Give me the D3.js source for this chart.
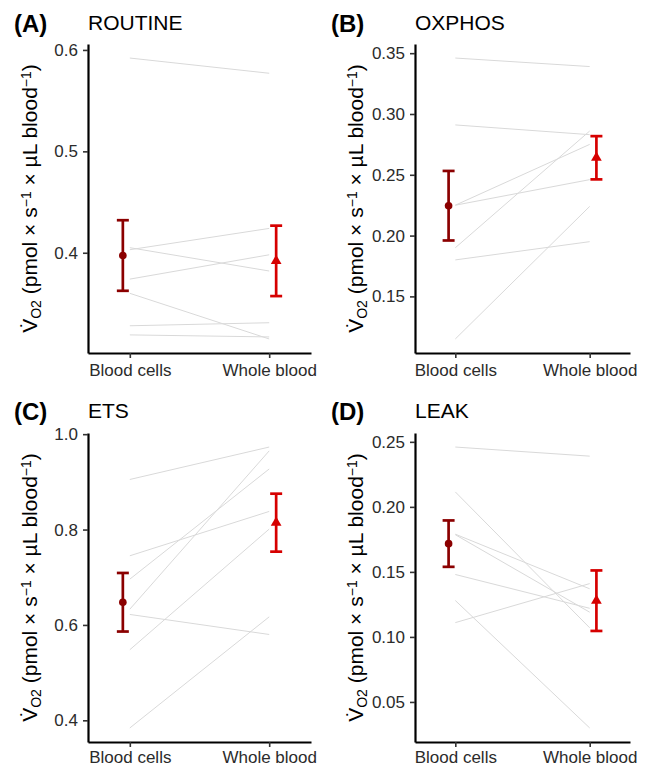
<!DOCTYPE html>
<html>
<head>
<meta charset="utf-8">
<script src="https://cdn.jsdelivr.net/npm/d3@7"></script>
<style>
  body { margin: 0; background: #fff; }
  svg { font-family: "Liberation Sans", Arial, Helvetica, sans-serif; }
</style>
</head>
<body>
<script>
// categories
const conditions = ["Blood cells", "Whole blood"];
const panelLetters = ["(A)", "(B)", "(C)", "(D)"];
const panelTitles = ["ROUTINE", "OXPHOS", "ETS", "LEAK"];

// one value per individual, same order in both arrays (lines pair them)
const routineCells = [0.592, 0.405, 0.403, 0.374, 0.360, 0.328, 0.319];
const routineBlood = [0.577, 0.382, 0.424, 0.398, 0.315, 0.331, 0.317];
const oxphosCells  = [0.346, 0.291, 0.225, 0.225, 0.190, 0.180, 0.115];
const oxphosBlood  = [0.339, 0.283, 0.275, 0.246, 0.286, 0.195, 0.224];
const etsCells     = [0.905, 0.745, 0.696, 0.633, 0.622, 0.548, 0.384];
const etsBlood     = [0.973, 0.838, 0.927, 0.965, 0.580, 0.801, 0.617];
const leakCells    = [0.246, 0.2115, 0.179, 0.1786, 0.148, 0.128, 0.111];
const leakBlood    = [0.239, 0.107, 0.137, 0.119, 0.122, 0.030, 0.141];

// tick labels
const routineTicks = [0.4, 0.5, 0.6];
const oxphosTicks  = [0.15, 0.20, 0.25, 0.30, 0.35];
const etsTicks     = [0.4, 0.6, 0.8, 1.0];
const leakTicks    = [0.05, 0.10, 0.15, 0.20, 0.25];

const width = 649, height = 767;
const darkRed = "#8b0000", red = "#d60000";

const svg = d3.select("body").append("svg")
    .attr("width", width)
    .attr("height", height);

// plot areas in page pixels, plus where the headings sit
const panels = [
    { cells: routineCells, blood: routineBlood, ticks: routineTicks, fmt: ".1f",
      left: 88, right: 311, top: 44, bottom: 353, letterX: 14, labelX: 37, headY: 0, xPad: 5.6 },
    { cells: oxphosCells, blood: oxphosBlood, ticks: oxphosTicks, fmt: ".2f",
      left: 415, right: 630, top: 44, bottom: 353, letterX: 331, labelX: 363, headY: 0, xPad: 5.6 },
    { cells: etsCells, blood: etsBlood, ticks: etsTicks, fmt: ".1f",
      left: 88, right: 311, top: 433, bottom: 742, letterX: 14, labelX: 37, headY: 388, xPad: 3.5 },
    { cells: leakCells, blood: leakBlood, ticks: leakTicks, fmt: ".2f",
      left: 415, right: 630, top: 433, bottom: 742, letterX: 331, labelX: 363, headY: 388, xPad: 3.5 }
];

function summary(v) {
    const m = d3.mean(v);
    const se = d3.deviation(v) / Math.sqrt(v.length);
    return { mean: m, lo: m - se, hi: m + se };
}

panels.forEach(function(p, i) {
    const g = svg.append("g").attr("class", "panel");

    const stats = [summary(p.cells), summary(p.blood)];
    const all = p.cells.concat(p.blood, stats.map(s => s.lo), stats.map(s => s.hi));
    const ext = d3.extent(all);
    const pad = (ext[1] - ext[0]) * 0.05;

    const x = d3.scalePoint()
        .domain(conditions)
        .range([p.left, p.right])
        .padding(0.3);

    const y = d3.scaleLinear()
        .domain([ext[0] - pad, ext[1] + pad])
        .range([p.bottom, p.top]);

    const dodge = x.step() * 0.05;

    // individual lines
    g.append("g").selectAll("line")
        .data(p.cells.map((c, k) => [c, p.blood[k]]))
        .enter().append("line")
        .attr("x1", x(conditions[0]))
        .attr("x2", x(conditions[1]))
        .attr("y1", d => y(d[0]))
        .attr("y2", d => y(d[1]))
        .attr("stroke", "#d9d9d9")
        .attr("stroke-width", 1);

    // mean +/- SE
    const eb = g.append("g").selectAll("g")
        .data(stats)
        .enter().append("g")
        .attr("transform", (d, k) => "translate(" + (x(conditions[k]) + (k === 0 ? -dodge : dodge)) + ",0)");

    eb.append("line")
        .attr("y1", d => y(d.lo)).attr("y2", d => y(d.hi))
        .attr("stroke", (d, k) => k === 0 ? darkRed : red)
        .attr("stroke-width", 2.7);
    eb.append("line")
        .attr("x1", -6).attr("x2", 6)
        .attr("y1", d => y(d.hi)).attr("y2", d => y(d.hi))
        .attr("stroke", (d, k) => k === 0 ? darkRed : red)
        .attr("stroke-width", 2.7);
    eb.append("line")
        .attr("x1", -6).attr("x2", 6)
        .attr("y1", d => y(d.lo)).attr("y2", d => y(d.lo))
        .attr("stroke", (d, k) => k === 0 ? darkRed : red)
        .attr("stroke-width", 2.7);
    eb.append("path")
        .attr("transform", d => "translate(0," + y(d.mean) + ")")
        .attr("d", (d, k) => d3.symbol().type(k === 0 ? d3.symbolCircle : d3.symbolTriangle).size(k === 0 ? 46 : 50)())
        .attr("fill", (d, k) => k === 0 ? darkRed : red);

    // axes
    const yAxis = g.append("g")
        .attr("transform", "translate(" + p.left + ",0)")
        .call(d3.axisLeft(y).tickValues(p.ticks).tickFormat(d3.format(p.fmt))
            .tickSize(5).tickPadding(5).tickSizeOuter(0));
    const xAxis = g.append("g")
        .attr("transform", "translate(0," + p.bottom + ")")
        .call(d3.axisBottom(x).tickSize(5).tickPadding(p.xPad).tickSizeOuter(0));

    [yAxis, xAxis].forEach(function(ax) {
        ax.select(".domain").attr("stroke", "#000").attr("stroke-width", 2.2);
        ax.selectAll(".tick line").attr("stroke", "#333").attr("stroke-width", 1.6);
        ax.selectAll(".tick text").attr("fill", "#2b2b2b")
            .style("font-size", "17px")
            .style("font-family", "'Liberation Sans', Arial, sans-serif");
    });

    // headings
    g.append("text")
        .attr("x", p.letterX).attr("y", 32 + p.headY)
        .style("font-size", "24px").style("font-weight", "bold")
        .text(panelLetters[i]);
    g.append("text")
        .attr("x", p.left).attr("y", 29.5 + p.headY)
        .style("font-size", "21px")
        .text(panelTitles[i]);

    // y axis label
    const lab = g.append("text")
        .attr("transform", "translate(" + p.labelX + "," + ((p.top + p.bottom) / 2) + ") rotate(-90)")
        .attr("text-anchor", "middle")
        .style("font-size", "21px");
    lab.append("tspan").text("V\u0307");
    lab.append("tspan").attr("baseline-shift", "-25%").style("font-size", "14px").text("O2");
    lab.append("tspan").text(" (pmol \u00d7 s");
    lab.append("tspan").attr("baseline-shift", "45%").style("font-size", "14px").text("\u22121");
    lab.append("tspan").text(" \u00d7 \u00b5L blood");
    lab.append("tspan").attr("baseline-shift", "45%").style("font-size", "14px").text("\u22121");
    lab.append("tspan").text(")");
});
</script>
</body>
</html>
